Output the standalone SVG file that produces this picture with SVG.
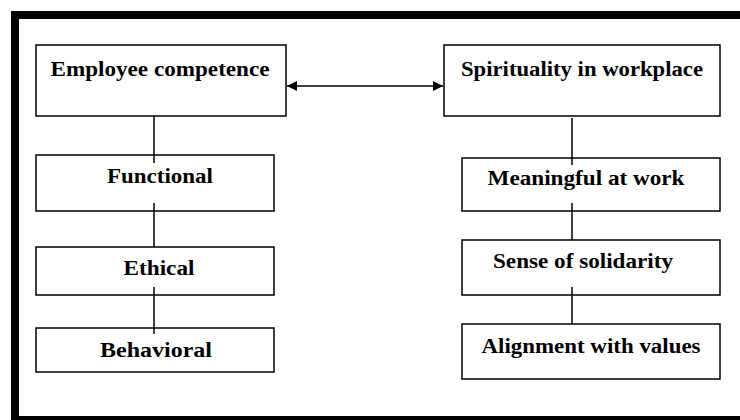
<svg xmlns="http://www.w3.org/2000/svg" width="740" height="420" viewBox="0 0 740 420">
<style>
.box{fill:none;stroke:#000;stroke-width:1.5}
.lbl{font-family:"Liberation Serif","Times New Roman",serif;font-weight:bold;font-size:20px;fill:#000;text-anchor:middle}
.ln{stroke:#000;stroke-width:1.5;fill:none}
</style>
<defs>
<marker id="ah" viewBox="0 0 10 10" refX="10" refY="5" markerWidth="11" markerHeight="10" markerUnits="userSpaceOnUse" orient="auto-start-reverse">
<path d="M0,0 L10,5 L0,10 z" fill="#000"/>
</marker>
</defs>
<rect width="740" height="420" fill="#fff"/>
<g id="frame">
<rect x="11" y="11" width="729" height="8" fill="#000"/>
<rect x="11" y="11" width="8" height="409" fill="#000"/>
<rect x="11" y="416" width="729" height="4" fill="#000"/>
</g>
<g id="connectors">
<line class="ln" x1="287" y1="86" x2="443" y2="86" stroke-width="2" marker-start="url(#ah)" marker-end="url(#ah)"/>
<line class="ln" x1="154" y1="116" x2="154" y2="163"/>
<line class="ln" x1="154" y1="203" x2="154" y2="247"/>
<line class="ln" x1="154" y1="287" x2="154" y2="334"/>
<line class="ln" x1="572" y1="118" x2="572" y2="165"/>
<line class="ln" x1="572" y1="203" x2="572" y2="240"/>
<line class="ln" x1="572" y1="287" x2="572" y2="324"/>
</g>
<g id="employee-competence">
<rect class="box" x="36" y="45" width="250" height="71"/>
<text class="lbl" x="160" y="76" textLength="219" lengthAdjust="spacingAndGlyphs">Employee competence</text>
</g>
<g id="spirituality">
<rect class="box" x="444" y="45" width="276" height="71"/>
<text class="lbl" x="582" y="76" textLength="242" lengthAdjust="spacingAndGlyphs">Spirituality in workplace</text>
</g>
<g id="functional">
<rect class="box" x="36" y="155" width="238" height="56"/>
<text class="lbl" x="160" y="183" textLength="106" lengthAdjust="spacingAndGlyphs">Functional</text>
</g>
<g id="ethical">
<rect class="box" x="36" y="247" width="238" height="48"/>
<text class="lbl" x="159" y="275" textLength="71" lengthAdjust="spacingAndGlyphs">Ethical</text>
</g>
<g id="behavioral">
<rect class="box" x="36" y="328" width="238" height="44"/>
<text class="lbl" x="156" y="357" textLength="112" lengthAdjust="spacingAndGlyphs">Behavioral</text>
</g>
<g id="meaningful">
<rect class="box" x="462" y="158" width="258" height="53"/>
<text class="lbl" x="586" y="185" textLength="197" lengthAdjust="spacingAndGlyphs">Meaningful at work</text>
</g>
<g id="solidarity">
<rect class="box" x="462" y="240" width="258" height="55"/>
<text class="lbl" x="583" y="268" textLength="180" lengthAdjust="spacingAndGlyphs">Sense of solidarity</text>
</g>
<g id="alignment">
<rect class="box" x="462" y="324" width="258" height="55"/>
<text class="lbl" x="591" y="353" textLength="219" lengthAdjust="spacingAndGlyphs">Alignment with values</text>
</g>
</svg>
